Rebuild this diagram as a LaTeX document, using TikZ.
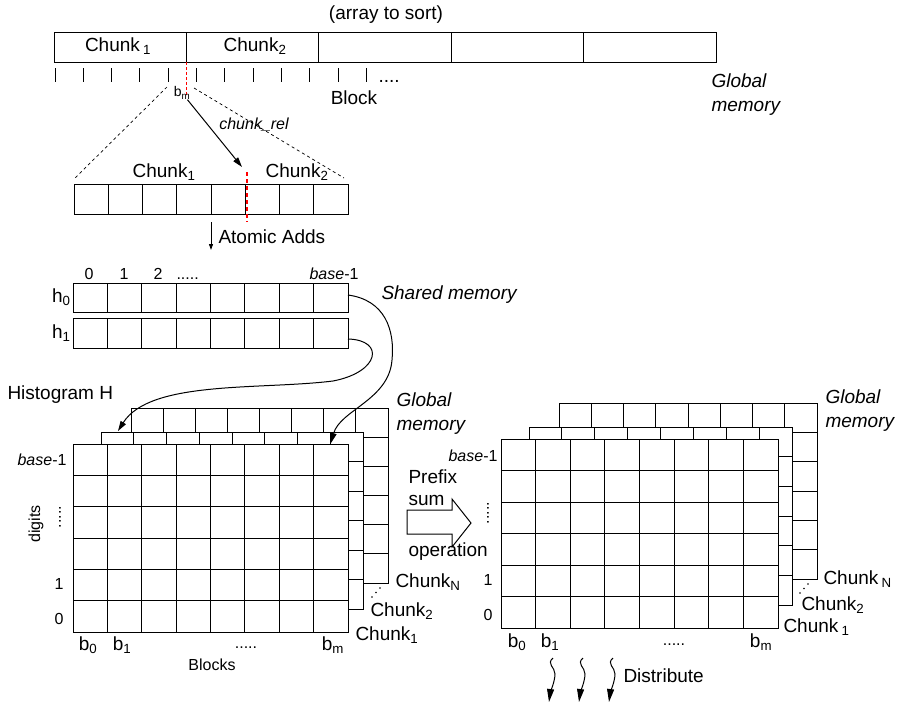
\documentclass[tikz,border=0pt]{standalone}
\usepackage{fontspec}
\setmainfont{Liberation Sans}
\usetikzlibrary{arrows.meta,positioning,calc}

\begin{document}
\begin{tikzpicture}[x=1pt,y=-1pt,line width=1pt,>={Stealth[length=10pt,width=6pt,inset=0pt]},
  font=\fontsize{19}{24}\selectfont, inner sep=0pt,
  sm/.style={font=\fontsize{16}{18}\selectfont},
  it/.style={font=\fontsize{19}{24}\selectfont\itshape,align=left},
  smit/.style={font=\fontsize{16}{18}\selectfont\itshape},
  reddash/.style={red,dash pattern=on 3pt off 2pt}]
\useasboundingbox (0,0) rectangle (897,705);
% array to sort
\node (arr) at (386,15) {(array to sort)};
\foreach \i in {0,...,4} \draw ({54+132.4*\i},32) rectangle ({186.4+132.4*\i},62);
\node (ch1) at (118,46) {Chunk\,\textsubscript{1}};
\node (ch2) at (255,46) {Chunk\textsubscript{2}};
\foreach \k in {0,...,11} \draw ({55+28.3*\k},68) -- ({55+28.3*\k},82);
\node[anchor=base west] (tdots) at (378,82) {....};
\node (blk) at (354,98) {Block};
\node[it,anchor=west] (gm1) at (711,95) {Global\\memory};
\draw[reddash] (186,62) -- (186,96);
\node[font=\fontsize{14}{16}\selectfont] (bm) at (182,93) {b\textsubscript{m}};
% one block, zoomed
\coordinate (tk4) at (167,87); \coordinate (tk5) at (194,88);
\coordinate (a2l) at (74,179); \coordinate (a2r) at (344,178);
\draw[dashed,line width=0.7pt] (tk4) -- (a2l) (tk5) -- (a2r);
\foreach \i in {0,...,7} \draw ({74+34.25*\i},184) rectangle ++(34.25,30);
\node (cc1) at (164,172) {Chunk\textsubscript{1}};
\node (cc2) at (297,172) {Chunk\textsubscript{2}};
\draw[reddash,line width=2pt,dash pattern=on 4pt off 3pt] (247,172) -- (247,222);
\coordinate (cut) at (242,167);
\draw[->] (bm) -- (cut);
\node[smit] (crel) at (254,125) {chunk\_rel};
% atomic adds
\coordinate (aa1) at (211,222); \coordinate (aa2) at (211,250);
\draw[->,>={Stealth[length=6pt,width=4pt,inset=0pt]}] (aa1) -- (aa2);
\node[anchor=west] (aadd) at (218,237) {Atomic Adds};
% shared memory histograms
\foreach \i in {0,...,7} {\draw ({73+34.375*\i},283) rectangle ++(34.375,29);
  \draw ({73+34.375*\i},318) rectangle ++(34.375,30);}
\node[anchor=east] (h0) at (71,297) {h\textsubscript{0}};
\node[anchor=east] (h1) at (71,333) {h\textsubscript{1}};
\foreach \v/\x in {0/89,1/124,2/158} \node[sm] (col\v) at (\x,274) {\v};
\node[sm,anchor=base west] (cdots) at (176,279) {.....};
\node[sm,anchor=east] (cbase) at (359,274) {\textit{base}-1};
\node[it,anchor=west] (shm) at (381,295) {Shared memory};
% histogram layers (back to front), left and right
\foreach \xa/\ya/\xb/\yb in {131/408/388/583,101/432/363/609,73/444/348/632,
    559/403/817/579,529/427/792/605,501/439/778/628}{
  \filldraw[fill=white] (\xa,\ya) rectangle (\xb,\yb);
  \foreach \k in {1,...,7} \draw ({\xa+(\xb-\xa)*\k/8},\ya) -- ({\xa+(\xb-\xa)*\k/8},\yb);
  \foreach \k in {1,...,5} \draw (\xa,{\ya+(\yb-\ya)*\k/6}) -- (\xb,{\ya+(\yb-\ya)*\k/6});
}
\node[anchor=west] (hist) at (7,395) {Histogram H};
\node[it,anchor=west] (gm2) at (396,414) {Global\\memory};
\node[sm,anchor=east] (lbase) at (67,460) {\textit{base}-1};
\node[sm,rotate=90] (dig) at (36,524) {digits};
\node[sm,rotate=90] (ldots) at (60,517) {.....};
\node[sm] (l1) at (59,584) {1};
\node[sm] (l0) at (59,619) {0};
\node (lb0) at (88,645) {b\textsubscript{0}};
\node (lb1) at (122,645) {b\textsubscript{1}};
\node[sm,anchor=base] (lbd) at (246,648) {.....};
\node (lbm) at (333,645) {b\textsubscript{m}};
\node[sm] (blks) at (212,665) {Blocks};
\node[anchor=west] (lc1) at (355,635) {Chunk\textsubscript{1}};
\node[anchor=west] (lc2) at (370,611) {Chunk\textsubscript{2}};
\node[anchor=west] (lcn) at (395,582) {Chunk\textsubscript{N}};
\foreach \d in {0,1,2} \fill ({372+4*\d},{597-4.5*\d}) circle (0.9);
% copy into global memory
\coordinate (h0e) at (348,295); \coordinate (g0) at (331,443);
\coordinate (h1e) at (348,339); \coordinate (g1) at (118,431);
\draw[->] (h0e) .. controls (385,300) and (395,330) .. (392,360) .. controls (389,400) and (340,410) .. (g0);
\draw[->] (h1e) .. controls (385,340) and (380,372) .. (333,381) .. controls (260,390) and (150,380) .. (g1);
% prefix sum
\draw (407,510) -- (452,510) -- (452,499) -- (471,523) -- (452,547) -- (452,534) -- (407,534) -- cycle;
\node[anchor=west] (pf) at (408,477) {Prefix};
\node[anchor=west] (ps) at (408,500) {sum};
\node[anchor=west] (po) at (408,552) {operation};
\node[it,anchor=west] (gm3) at (825,411) {Global\\memory};
\node[sm,anchor=east] (rbase) at (498,456) {\textit{base}-1};
\node[sm,rotate=90] (rdots) at (488,513) {.....};
\node[sm] (r1) at (488,580) {1};
\node[sm] (r0) at (488,615) {0};
\node (rb0) at (517,642) {b\textsubscript{0}};
\node (rb1) at (550,642) {b\textsubscript{1}};
\node[sm,anchor=base] (rbd) at (674,645) {.....};
\node (rbm) at (761,642) {b\textsubscript{m}};
\node[anchor=west] (rc1) at (783,627) {Chunk\,\textsubscript{1}};
\node[anchor=west] (rc2) at (801,605) {Chunk\textsubscript{2}};
\node[anchor=west] (rcn) at (823,579) {Chunk\,\textsubscript{N}};
\foreach \d in {0,1,2} \fill ({800+4*\d},{593-4.5*\d}) circle (0.9);
% distribute
\foreach \x [count=\i] in {553,583,613}{
  \coordinate (ds\i) at (\x,658); \coordinate (de\i) at ({\x-4},702);
  \draw[->,>={Stealth[length=13pt,width=7pt,inset=0pt]}] (ds\i) .. controls +(-7,6) and +(0,-7) .. ++(2,16) .. controls +(0,7) and +(1,-8) .. (de\i);}
\node[anchor=west] (dist) at (623,676) {Distribute};
\end{tikzpicture}
\end{document}
